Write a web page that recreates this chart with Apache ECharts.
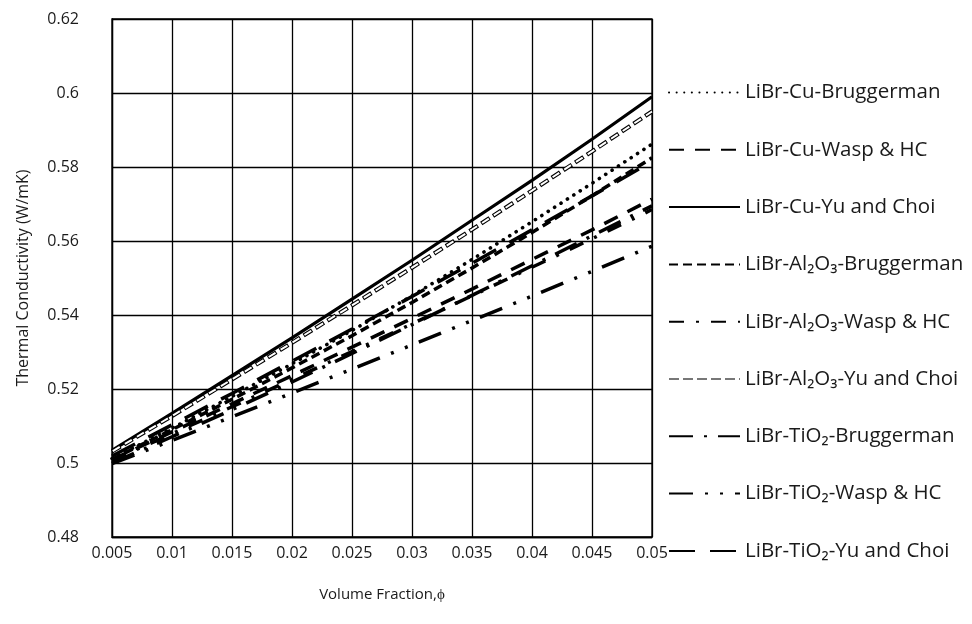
<!DOCTYPE html>
<html>
<head>
<meta charset="utf-8">
<script src="https://cdn.jsdelivr.net/npm/echarts@6/dist/echarts.min.js"></script>
<style>
  html, body { margin: 0; padding: 0; background: #fff; }
  #chart { width: 972px; height: 624px; }
</style>
</head>
<body>
<div id="chart"></div>
<script>
// volume fraction (x)
const phi = [0.005, 0.01, 0.015, 0.02, 0.025, 0.03, 0.035, 0.04, 0.045, 0.05]

// thermal conductivity (W/mK)
const cuBrug   = [0.5012, 0.5094, 0.5180, 0.5268, 0.5358, 0.5452, 0.5550, 0.5652, 0.5756, 0.5862]
const cuWasp   = [0.5009, 0.5084, 0.5160, 0.5236, 0.5313, 0.5391, 0.5470, 0.5550, 0.5630, 0.5713]
const cuYu     = [0.5034, 0.5134, 0.5236, 0.5338, 0.5443, 0.5548, 0.5656, 0.5764, 0.5875, 0.5990]
const alBrug   = [0.5010, 0.5090, 0.5172, 0.5257, 0.5344, 0.5434, 0.5527, 0.5623, 0.5722, 0.5825]
const alWasp   = [0.5007, 0.5079, 0.5152, 0.5226, 0.5301, 0.5376, 0.5452, 0.5529, 0.5606, 0.5685]
const alYu     = [0.5031, 0.5127, 0.5226, 0.5325, 0.5426, 0.5528, 0.5631, 0.5736, 0.5842, 0.5950]
const tiBrug   = [0.5000, 0.5071, 0.5144, 0.5219, 0.5296, 0.5374, 0.5453, 0.5533, 0.5614, 0.5695]
const tiWasp   = [0.4998, 0.5061, 0.5125, 0.5189, 0.5254, 0.5319, 0.5385, 0.5451, 0.5518, 0.5586]
const tiYu     = [0.5019, 0.5103, 0.5188, 0.5275, 0.5362, 0.5450, 0.5540, 0.5630, 0.5722, 0.5815]

const names = [
    'LiBr-Cu-Bruggerman',
    'LiBr-Cu-Wasp & HC',
    'LiBr-Cu-Yu and Choi',
    'LiBr-Al₂O₃-Bruggerman',
    'LiBr-Al₂O₃-Wasp & HC',
    'LiBr-Al₂O₃-Yu and Choi',
    'LiBr-TiO₂-Bruggerman',
    'LiBr-TiO₂-Wasp & HC',
    'LiBr-TiO₂-Yu and Choi'
]

const font = 'Open Sans'
const pairs = vals => phi.map((x, i) => [x, vals[i]])

const mkLine = (name, vals, width, type, extra) => Object.assign({
    type: 'line',
    name: name,
    data: pairs(vals),
    symbol: 'none',
    animation: false,
    // symbol hidden so the legend only shows the line
    itemStyle: { color: '#000', opacity: 0 },
    lineStyle: { color: '#000', width: width, type: type, cap: 'butt', opacity: 1 }
}, extra || {})

const chart = echarts.init(document.getElementById('chart'))

const series = [
    mkLine(names[0], cuBrug, 3.6, [0.1, 7.5]),
    mkLine(names[1], cuWasp, 3.5, [15, 11]),
    mkLine(names[2], cuYu, 3.2, 'solid'),
    mkLine(names[3], alBrug, 3.5, [9, 5]),
    mkLine(names[4], alWasp, 3.5, [15, 12, 3, 12]),
    mkLine(names[5], alYu, 4.2, [10, 4]),
    mkLine(names[6], tiBrug, 3.5, [24, 11, 3, 11]),
    mkLine(names[7], tiWasp, 3.5, [24, 12, 3, 12, 3, 12]),
    mkLine(names[8], tiYu, 3.5, [26, 15]),
    // white core of the outlined dashes
    mkLine('alYuInner', alYu, 2, [8, 6], { z: 3 })
]
// round dots for the dotted one
series[0].lineStyle.cap = 'round'
series[9].lineStyle.color = '#fff'
series[9].lineStyle.dashOffset = -1

chart.setOption({
    backgroundColor: '#fff',
    grid: { left: 112, right: 320, top: 19, bottom: 87, show: true, borderColor: '#000', borderWidth: 1.3 },
    legend: {
        orient: 'vertical',
        left: 663,
        top: 77,
        itemWidth: 71,
        itemHeight: 14,
        itemGap: 36.3,
        data: names.map((n, i) => i === 5 ? { name: n, lineStyle: { color: '#777' } } : n),
        textStyle: { fontFamily: font, fontSize: 20.5, color: '#1a1a1a' }
    },
    xAxis: {
        type: 'value',
        min: 0.005,
        max: 0.05,
        interval: 0.005,
        name: 'Volume Fraction,ϕ',
        nameLocation: 'middle',
        nameGap: 50,
        nameTextStyle: { fontFamily: font, fontSize: 15, color: '#1a1a1a' },
        axisLine: { lineStyle: { color: '#000', width: 1.3 } },
        axisTick: { show: false },
        axisLabel: { fontFamily: font, fontSize: 16, color: '#1a1a1a', margin: 8 },
        splitLine: { lineStyle: { color: '#000', width: 1.3 } }
    },
    yAxis: {
        type: 'value',
        min: 0.48,
        max: 0.62,
        interval: 0.02,
        name: 'Thermal Conductivity (W/mK)',
        nameLocation: 'middle',
        nameGap: 81,
        nameTextStyle: { fontFamily: font, fontSize: 16, color: '#1a1a1a' },
        axisLine: { show: true, lineStyle: { color: '#000', width: 1.3 } },
        axisTick: { show: false },
        axisLabel: { fontFamily: font, fontSize: 16, color: '#1a1a1a', margin: 33 },
        splitLine: { lineStyle: { color: '#000', width: 1.3 } }
    },
    series: series
})
</script>
</body>
</html>
